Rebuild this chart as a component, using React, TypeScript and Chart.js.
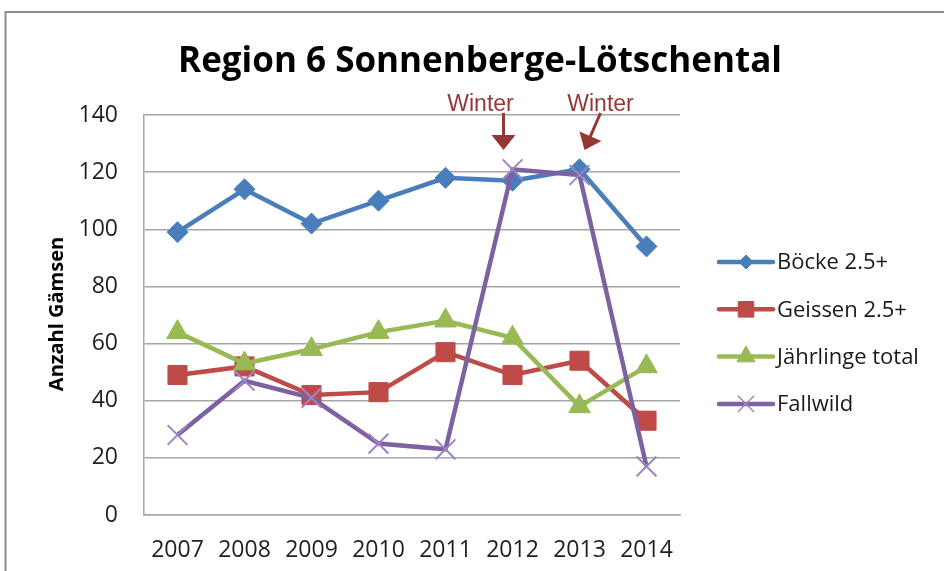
import React, { useEffect, useRef } from 'react';
import { Chart, registerables } from 'chart.js';

Chart.register(...registerables);

const years = ['2007', '2008', '2009', '2010', '2011', '2012', '2013', '2014'];
const boecke = [99, 114, 102, 110, 118, 117, 121, 94];
const geissen = [49, 52, 42, 43, 57, 49, 54, 33];
const jaehrlinge = [64, 53, 58, 64, 68, 62, 38, 52];
const fallwild = [28, 47, 41, 25, 23, 121, 119, 17];
const seriesLabels = ['Böcke 2.5+', 'Geissen 2.5+', 'Jährlinge total', 'Fallwild'];
const yMin = 0;
const yMax = 140;
const yStep = 20;
const titleText = 'Region 6 Sonnenberge-Lötschental';
const yTitleText = 'Anzahl Gämsen';
const winterLabel = 'Winter';
const winterYears = ['2012', '2013'];

const COLORS = ['#4A7EBB', '#BE4B48', '#98B954', '#7E61A1'];
const MARKER_STROKE = ['#4A7EBB', '#BE4B48', '#98B954', '#9C85C2'];
const STYLES = ['rectRot', 'rect', 'triangle', 'crossRot'];
const CHART_RADII = [10.5, 13.5, 12.5, 14];
const LEGEND_RADII = [7, 11, 10.5, 11.5];
const WINE = '#953735';
const FONT = '"Open Sans", "Noto Sans", sans-serif';

function drawMarker(ctx: CanvasRenderingContext2D, style: string, x: number, y: number, r: number, fill: string, stroke: string, lw: number) {
  ctx.save();
  ctx.beginPath();
  if (style === 'rectRot') {
    ctx.moveTo(x - r, y);
    ctx.lineTo(x, y - r);
    ctx.lineTo(x + r, y);
    ctx.lineTo(x, y + r);
    ctx.closePath();
  } else if (style === 'rect') {
    const s = r * Math.SQRT1_2;
    ctx.rect(x - s, y - s, 2 * s, 2 * s);
  } else if (style === 'triangle') {
    let a = 0;
    ctx.moveTo(x + Math.sin(a) * r, y - Math.cos(a) * r);
    a += (2 * Math.PI) / 3;
    ctx.lineTo(x + Math.sin(a) * r, y - Math.cos(a) * r);
    a += (2 * Math.PI) / 3;
    ctx.lineTo(x + Math.sin(a) * r, y - Math.cos(a) * r);
    ctx.closePath();
  } else {
    const o = r * Math.SQRT1_2;
    ctx.moveTo(x - o, y - o);
    ctx.lineTo(x + o, y + o);
    ctx.moveTo(x - o, y + o);
    ctx.lineTo(x + o, y - o);
  }
  if (style !== 'crossRot') {
    ctx.fillStyle = fill;
    ctx.fill();
  }
  ctx.strokeStyle = stroke;
  ctx.lineWidth = lw;
  ctx.stroke();
  ctx.restore();
}

function drawArrow(ctx: CanvasRenderingContext2D, x1: number, y1: number, x2: number, y2: number) {
  const dx = x2 - x1;
  const dy = y2 - y1;
  const len = Math.hypot(dx, dy);
  const ux = dx / len;
  const uy = dy / len;
  const headLen = 15;
  const headHalf = 12;
  const bx = x2 - ux * headLen;
  const by = y2 - uy * headLen;
  ctx.save();
  ctx.strokeStyle = WINE;
  ctx.fillStyle = WINE;
  ctx.lineWidth = 3;
  ctx.beginPath();
  ctx.moveTo(x1, y1);
  ctx.lineTo(bx + ux, by + uy);
  ctx.stroke();
  ctx.beginPath();
  ctx.moveTo(x2, y2);
  ctx.lineTo(bx - uy * headHalf, by + ux * headHalf);
  ctx.lineTo(bx + uy * headHalf, by - ux * headHalf);
  ctx.closePath();
  ctx.fill();
  ctx.restore();
}

const decorPlugin = {
  id: 'decor',
  beforeDraw(chart: any) {
    const ctx = chart.ctx as CanvasRenderingContext2D;
    ctx.save();
    ctx.fillStyle = '#ffffff';
    ctx.fillRect(0, 0, chart.width, chart.height);
    ctx.strokeStyle = '#8c8c8c';
    ctx.lineWidth = 2;
    ctx.strokeRect(5.5, 12, chart.width + 20, chart.height + 20);
    ctx.restore();
  },
  afterDraw(chart: any) {
    const ctx = chart.ctx as CanvasRenderingContext2D;
    const area = chart.chartArea;
    const xs = chart.scales.x;

    // title
    ctx.save();
    ctx.fillStyle = '#000000';
    ctx.font = `bold 35px ${FONT}`;
    ctx.textAlign = 'center';
    ctx.textBaseline = 'alphabetic';
    ctx.fillText(titleText, 480, 72);
    ctx.restore();

    // y axis title
    ctx.save();
    ctx.translate(57, (area.top + area.bottom) / 2 - 1);
    ctx.rotate(-Math.PI / 2);
    ctx.fillStyle = '#000000';
    ctx.font = `bold 20px ${FONT}`;
    ctx.textAlign = 'center';
    ctx.textBaseline = 'middle';
    ctx.fillText(yTitleText, 0, 0);
    ctx.restore();

    // winter annotations
    const textDx = [-32, 21];
    const arrowStartDx = [-9, 21];
    const arrowEndDx = [-9, 5];
    winterYears.forEach((yr, i) => {
      const px = xs.getPixelForValue(years.indexOf(yr));
      ctx.save();
      ctx.fillStyle = WINE;
      ctx.font = '23px "Liberation Sans", Arial, sans-serif';
      ctx.textAlign = 'center';
      ctx.textBaseline = 'alphabetic';
      ctx.fillText(winterLabel, px + textDx[i], area.top - 4);
      ctx.restore();
      drawArrow(ctx, px + arrowStartDx[i], area.top - 2, px + arrowEndDx[i], area.top + 35);
    });

    // legend
    const lx1 = 719;
    const lx2 = 773;
    seriesLabels.forEach((label, i) => {
      const y = 262 + i * 47.3;
      ctx.save();
      ctx.strokeStyle = COLORS[i];
      ctx.lineWidth = 4.5;
      ctx.lineCap = 'round';
      ctx.beginPath();
      ctx.moveTo(lx1, y);
      ctx.lineTo(lx2, y);
      ctx.stroke();
      ctx.restore();
      drawMarker(ctx, STYLES[i], (lx1 + lx2) / 2, y, LEGEND_RADII[i], COLORS[i], MARKER_STROKE[i], i === 3 ? 1.5 : 1);
      ctx.save();
      ctx.fillStyle = '#1a1a1a';
      ctx.font = `22px ${FONT}`;
      ctx.textAlign = 'left';
      ctx.textBaseline = 'middle';
      ctx.fillText(label, 777, y + 1);
      ctx.restore();
    });
  },
};

export default function App() {
  const canvasRef = useRef<HTMLCanvasElement | null>(null);

  useEffect(() => {
    document.body.style.margin = '0';
    const canvas = canvasRef.current;
    if (!canvas) return;
    const seriesData = [boecke, geissen, jaehrlinge, fallwild];
    const chart = new Chart(canvas, {
      type: 'line',
      data: {
        labels: years,
        datasets: seriesData.map((d, i) => ({
          label: seriesLabels[i],
          data: d,
          borderColor: COLORS[i],
          backgroundColor: COLORS[i],
          borderWidth: 4.5,
          tension: 0,
          pointStyle: STYLES[i] as any,
          pointRadius: CHART_RADII[i],
          pointHoverRadius: CHART_RADII[i],
          pointBackgroundColor: COLORS[i],
          pointBorderColor: MARKER_STROKE[i],
          pointBorderWidth: i === 3 ? 2 : 1,
          order: 3 - i,
          clip: false as any,
        })),
      },
      options: {
        responsive: false,
        animation: false,
        devicePixelRatio: 1,
        events: [],
        layout: { padding: { left: 0, top: 115, right: 264, bottom: 0 } },
        plugins: {
          legend: { display: false },
          title: { display: false },
          tooltip: { enabled: false },
        },
        scales: {
          x: {
            type: 'category',
            offset: true,
            grid: { display: false, drawTicks: false },
            border: { display: true, color: '#a6a6a6', width: 1.5 },
            ticks: {
              color: '#1f1f1f',
              font: { family: FONT, size: 23 },
              padding: 22,
              maxRotation: 0,
              autoSkip: false,
            },
            afterFit: (s: any) => {
              s.height = 56;
            },
          },
          y: {
            min: yMin,
            max: yMax,
            grid: { display: true, color: '#a6a6a6', lineWidth: 1.5, drawTicks: false },
            border: { display: true, color: '#a6a6a6', width: 1.5 },
            ticks: {
              stepSize: yStep,
              color: '#1f1f1f',
              font: { family: FONT, size: 23 },
              padding: 26,
            },
            afterFit: (s: any) => {
              s.width = 144;
            },
          },
        },
      },
      plugins: [decorPlugin],
    });
    return () => chart.destroy();
  }, []);

  return (
    <div style={{ position: 'absolute', left: 0, top: 0, width: 944, height: 571 }}>
      <canvas ref={canvasRef} width={944} height={571} style={{ display: 'block' }} />
    </div>
  );
}
